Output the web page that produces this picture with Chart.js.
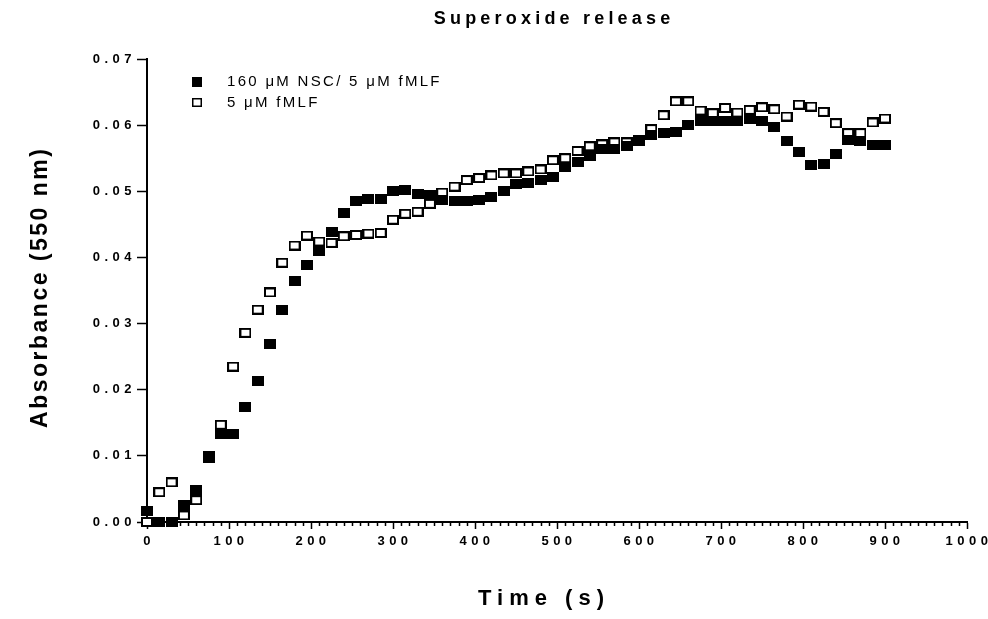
<!DOCTYPE html>
<html>
<head>
<meta charset="utf-8">
<script src="https://cdn.jsdelivr.net/npm/chart.js@4/dist/chart.umd.min.js"></script>
<style>
html,body{margin:0;padding:0;background:#fff;}
#wrap{width:988px;height:619px;position:relative;}
canvas{display:block;}
</style>
</head>
<body>
<div id="wrap"><canvas id="c" width="988" height="619"></canvas></div>
<script>
// ---------- data ----------
const chartTitle = 'Superoxide release';
const xAxisTitle = 'Time (s)';
const yAxisTitle = 'Absorbance (550 nm)';
const seriesLabels = ['160 \u03BCM NSC/ 5 \u03BCM fMLF', '5 \u03BCM fMLF'];

const times = [0,15,30,45,60,75,90,105,120,135,150,165,180,195,210,225,240,255,270,285,
  300,315,330,345,360,375,390,405,420,435,450,465,480,495,510,525,540,555,570,585,
  600,615,630,645,660,675,690,705,720,735,750,765,780,795,810,825,840,855,870,885,900];

const nscFmlf = [0.0017,0.0000,0.0000,0.0025,0.0048,0.0100,0.0133,0.0133,0.0174,0.0213,
  0.0269,0.0321,0.0365,0.0389,0.0410,0.0439,0.0467,0.0485,0.0488,0.0488,
  0.0500,0.0502,0.0496,0.0495,0.0487,0.0485,0.0486,0.0487,0.0491,0.0500,
  0.0511,0.0513,0.0517,0.0522,0.0536,0.0544,0.0554,0.0564,0.0564,0.0569,
  0.0576,0.0585,0.0588,0.0590,0.0600,0.0606,0.0606,0.0606,0.0606,0.0609,
  0.0606,0.0597,0.0576,0.0559,0.0540,0.0542,0.0557,0.0578,0.0576,0.0570,0.0570];

const fmlfOnly = [0.0000,0.0045,0.0060,0.0010,0.0033,0.0097,0.0147,0.0235,0.0286,0.0321,
  0.0347,0.0392,0.0418,0.0433,0.0424,0.0422,0.0432,0.0434,0.0436,0.0437,
  0.0457,0.0466,0.0469,0.0481,0.0498,0.0507,0.0517,0.0520,0.0524,0.0527,
  0.0527,0.0530,0.0533,0.0547,0.0550,0.0561,0.0568,0.0571,0.0574,0.0574,
  0.0578,0.0594,0.0615,0.0636,0.0636,0.0622,0.0618,0.0626,0.0619,0.0623,
  0.0627,0.0624,0.0613,0.0631,0.0628,0.0620,0.0603,0.0588,0.0588,0.0604,0.0610];

const xMin = 0, xMax = 1000, xMajorStep = 100, xMinorStep = 10;
const yMin = 0, yMax = 0.07, yStep = 0.01;

// ---------- marker images ----------
function makeMarker(w, h, filled) {
  const cv = document.createElement('canvas');
  cv.width = w; cv.height = h;
  const g = cv.getContext('2d');
  g.fillStyle = '#000';
  g.fillRect(0, 0, w, h);
  if (!filled) {
    g.fillStyle = '#fff';
    g.fillRect(2, 2, w - 4, h - 4);
  }
  return cv;
}
const filledMarker = makeMarker(12, 10, true);
const openMarker = makeMarker(12, 10, false);

const FONT = '"Liberation Sans", Arial, Helvetica, sans-serif';

// ---------- plugins ----------
const tickSpacing = {
  id: 'tickSpacing',
  beforeDraw(chart) { chart.ctx.letterSpacing = '4.5px'; }
};

const minorTicks = {
  id: 'minorTicks',
  beforeDatasetsDraw(chart) {
    const ctx = chart.ctx, xs = chart.scales.x, bottom = chart.chartArea.bottom;
    ctx.save();
    ctx.strokeStyle = '#000';
    ctx.lineWidth = 1.5;
    ctx.beginPath();
    for (let v = xMin; v <= xMax; v += xMinorStep) {
      if (v % xMajorStep === 0) continue;
      const px = Math.round(xs.getPixelForValue(v)) + 0.5;
      ctx.moveTo(px, bottom);
      ctx.lineTo(px, bottom + 4);
    }
    ctx.stroke();
    ctx.restore();
  }
};

function spacedText(ctx, text, x, y, font, ls, align, baseline) {
  ctx.font = font;
  ctx.letterSpacing = ls + 'px';
  ctx.textAlign = align;
  ctx.textBaseline = baseline;
  ctx.fillStyle = '#000';
  const dx = align === 'center' ? ls / 2 : 0;
  ctx.fillText(text, x + dx, y);
}

const annotations = {
  id: 'annotations',
  afterDraw(chart) {
    const ctx = chart.ctx, a = chart.chartArea;
    ctx.save();
    // chart title
    spacedText(ctx, chartTitle, (a.left + a.right) / 2 - 5, a.top - 35,
      'bold 18px ' + FONT, 4.2, 'center', 'alphabetic');
    // x axis title
    spacedText(ctx, xAxisTitle, (a.left + a.right) / 2 - 16, a.bottom + 83,
      'bold 22px ' + FONT, 6, 'center', 'alphabetic');
    // y axis title
    ctx.save();
    ctx.translate(a.left - 100, (a.top + a.bottom) / 2 - 2);
    ctx.rotate(-Math.PI / 2);
    spacedText(ctx, yAxisTitle, 0, 0, 'bold 23px ' + FONT, 2.5, 'center', 'alphabetic');
    ctx.restore();
    // legend
    const lx = a.left + 45, ly1 = a.top + 23, ly2 = a.top + 44;
    ctx.fillStyle = '#000';
    ctx.fillRect(lx, ly1 - 5, 10, 10);
    ctx.fillRect(lx, ly2 - 5, 10, 9);
    ctx.fillStyle = '#fff';
    ctx.fillRect(lx + 1.5, ly2 - 3.5, 7, 6);
    spacedText(ctx, seriesLabels[0], lx + 35, ly1, '15px ' + FONT, 2.3, 'left', 'middle');
    spacedText(ctx, seriesLabels[1], lx + 35, ly2, '15px ' + FONT, 2.3, 'left', 'middle');
    ctx.restore();
  }
};

// ---------- chart ----------
const ctx = document.getElementById('c').getContext('2d');
new Chart(ctx, {
  type: 'scatter',
  data: {
    datasets: [
      {
        label: seriesLabels[0],
        data: times.map((t, i) => ({x: t, y: nscFmlf[i]})),
        pointStyle: filledMarker,
        pointRadius: 6,
        pointHoverRadius: 6,
        showLine: false,
        clip: false,
        order: 0
      },
      {
        label: seriesLabels[1],
        data: times.map((t, i) => ({x: t, y: fmlfOnly[i]})),
        pointStyle: openMarker,
        pointRadius: 6,
        pointHoverRadius: 6,
        showLine: false,
        clip: false,
        order: 1
      }
    ]
  },
  options: {
    responsive: false,
    devicePixelRatio: 1,
    animation: false,
    events: [],
    layout: { padding: { left: 60, right: 21, top: 59, bottom: 57 } },
    plugins: {
      legend: { display: false },
      title: { display: false },
      tooltip: { enabled: false }
    },
    scales: {
      x: {
        type: 'linear',
        position: 'bottom',
        min: xMin, max: xMax,
        ticks: {
          stepSize: xMajorStep,
          autoSkip: false,
          maxRotation: 0,
          color: '#000',
          font: { family: FONT, size: 13, weight: 'bold' },
          padding: 5,
          labelOffset: 2,
          callback: v => String(v)
        },
        grid: { drawOnChartArea: false, drawTicks: true, tickLength: 7, tickColor: '#000', tickWidth: 1.5 },
        border: { display: true, color: '#000', width: 2 },
        title: { display: false },
        afterFit(s) { s.height = 40; s.paddingLeft = 0; s.paddingRight = 0; }
      },
      y: {
        type: 'linear',
        position: 'left',
        min: yMin, max: yMax,
        ticks: {
          stepSize: yStep,
          color: '#000',
          font: { family: FONT, size: 13, weight: 'bold' },
          padding: 1,
          callback: v => v.toFixed(2)
        },
        grid: { drawOnChartArea: false, drawTicks: true, tickLength: 10, tickColor: '#000', tickWidth: 1.5 },
        border: { display: true, color: '#000', width: 2 },
        title: { display: false },
        afterFit(s) { s.width = 87; s.paddingTop = 0; s.paddingBottom = 0; }
      }
    }
  },
  plugins: [tickSpacing, minorTicks, annotations]
});
</script>
</body>
</html>
